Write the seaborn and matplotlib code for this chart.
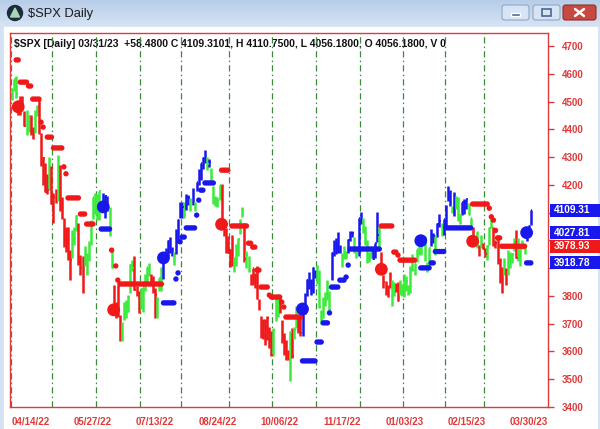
import matplotlib
matplotlib.use("Agg")
import matplotlib.pyplot as plt
import matplotlib.transforms as mtransforms
from matplotlib.colors import LinearSegmentedColormap
from matplotlib.patches import Rectangle, FancyBboxPatch, Circle, Polygon
import numpy as np
import pandas as pd
import seaborn as sns

# ---- daily bars 04/01/22 .. 03/31/23, one entry per trading day ----
highs = [
    # Apr
    4547, 4583, 4593, 4504, 4521, 4521, 4465, 4471, 4453, 4452,
    4410, 4471, 4489, 4512, 4386, 4299, 4279, 4240, 4300, 4269,
    # May
    4169, 4185, 4308, 4270, 4158, 4082, 4049, 4050, 3964, 4039,
    4047, 4090, 4063, 3946, 3943, 3981, 3955, 3999, 4075, 4158, 4169,
    # Jun
    4166, 4177, 4143, 4169, 4164, 4160, 4119, 3974, 3838, 3778,
    3838, 3733, 3707, 3779, 3784, 3802, 3914, 3928, 3945, 3837, 3818,
    # Jul
    3829, 3832, 3879, 3906, 3918, 3880, 3873, 3829, 3796, 3864,
    3903, 3940, 3974, 4001, 4013, 3975, 3960, 4040, 4078, 4140,
    # Aug
    4140, 4140, 4167, 4162, 4151, 4187, 4138, 4211, 4257, 4280,
    4301, 4325, 4302, 4292, 4260, 4196, 4159, 4156, 4200, 4204,
    4062, 4045, 4015,
    # Sep
    3970, 4018, 3942, 3987, 4010, 4076, 4119, 4062, 3962, 3944,
    3880, 3900, 3881, 3907, 3790, 3727, 3716, 3718, 3726, 3687, 3672,
    # Oct
    3683, 3791, 3807, 3797, 3712, 3668, 3641, 3607, 3675, 3685,
    3689, 3762, 3719, 3736, 3755, 3809, 3862, 3886, 3860, 3905, 3893,
    # Nov
    3911, 3894, 3750, 3796, 3814, 3859, 3818, 3957, 4001, 4008,
    4029, 3983, 3954, 3979, 3962, 4005, 4034, 4035, 4013, 3976, 4080,
    # Dec
    4101, 4080, 4052, 4001, 3957, 3966, 3978, 3991, 4101, 4053,
    3958, 3875, 3855, 3838, 3888, 3856, 3846, 3846, 3849, 3858, 3840,
    # Jan
    3879, 3873, 3839, 3907, 3951, 3919, 3970, 4003, 4003, 4015,
    4015, 3923, 3973, 4040, 4028, 4019, 4061, 4095, 4063, 4077,
    # Feb
    4127, 4195, 4183, 4124, 4176, 4160, 4157, 4094, 4139, 4148,
    4148, 4136, 4081, 4050, 4010, 4033, 3983, 4018, 3991,
    # Mar
    3972, 3983, 4048, 4079, 4050, 4001, 4018, 3935, 3905, 3937,
    3902, 3965, 3958, 3956, 4009, 4039, 4007, 3972, 4003, 3979,
    4030, 4055, 4111,
]
lows = [
    4507, 4539, 4514, 4450, 4451, 4481, 4411, 4381, 4392, 4381,
    4367, 4387, 4447, 4385, 4268, 4200, 4175, 4166, 4180, 4132,
    4063, 4133, 4141, 4107, 4077, 3975, 3957, 3928, 3859, 3938,
    3983, 4034, 3912, 3876, 3810, 3909, 3875, 3925, 3985, 4078, 4096,
    4073, 4074, 4099, 4110, 4080, 4107, 4017, 3900, 3743, 3721,
    3723, 3639, 3636, 3715, 3722, 3743, 3810, 3889, 3820, 3800, 3738,
    3752, 3742, 3816, 3850, 3872, 3847, 3810, 3722, 3721, 3817,
    3818, 3860, 3928, 3945, 3955, 3944, 3911, 3952, 3990, 4080,
    4079, 4079, 4108, 4128, 4107, 4128, 4105, 4177, 4201, 4219,
    4256, 4277, 4253, 4265, 4218, 4131, 4124, 4119, 4147, 4057,
    4017, 3954, 3954,
    3903, 3907, 3886, 3907, 3944, 4022, 4083, 3922, 3902, 3888,
    3838, 3838, 3829, 3789, 3750, 3647, 3644, 3624, 3642, 3611, 3584,
    3584, 3710, 3723, 3739, 3630, 3588, 3568, 3571, 3492, 3576,
    3644, 3686, 3666, 3654, 3657, 3735, 3799, 3824, 3804, 3809, 3863,
    3843, 3758, 3698, 3722, 3764, 3786, 3744, 3859, 3944, 3950,
    3953, 3954, 3906, 3933, 3933, 3956, 3999, 4013, 3956, 3937, 3945,
    4058, 4026, 3984, 3918, 3922, 3935, 3933, 3937, 3994, 3965,
    3879, 3828, 3802, 3796, 3828, 3765, 3798, 3813, 3780, 3805, 3801,
    3795, 3816, 3802, 3809, 3890, 3877, 3924, 3947, 3947, 3984,
    3925, 3885, 3899, 3979, 3990, 3949, 4013, 4049, 4015, 4021,
    4048, 4142, 4124, 4097, 4088, 4113, 4070, 4060, 4093, 4095,
    4114, 4091, 4047, 3996, 3982, 3972, 3944, 3973, 3969,
    3940, 3928, 3984, 4044, 3981, 3974, 3914, 3847, 3809, 3874,
    3838, 3876, 3901, 3917, 3962, 3936, 3925, 3909, 3970, 3952,
    3998, 4032, 4056,
]
closes = [
    4546, 4583, 4526, 4481, 4500, 4488, 4413, 4397, 4447, 4393,
    4392, 4463, 4459, 4394, 4272, 4297, 4175, 4183, 4288, 4132,
    4155, 4175, 4301, 4147, 4123, 3991, 4001, 3935, 3930, 4024,
    4008, 4089, 3923, 3901, 3901, 3974, 3941, 3979, 4058, 4158, 4132,
    4101, 4177, 4109, 4121, 4161, 4116, 4018, 3901, 3750, 3735,
    3790, 3667, 3675, 3765, 3760, 3796, 3912, 3901, 3822, 3819, 3785,
    3825, 3831, 3845, 3903, 3899, 3855, 3819, 3802, 3790, 3863,
    3831, 3937, 3960, 3999, 3962, 3967, 3921, 4024, 4072, 4130,
    4119, 4091, 4155, 4152, 4145, 4140, 4122, 4210, 4207, 4280,
    4297, 4305, 4275, 4284, 4228, 4138, 4128, 4141, 4199, 4058,
    4031, 3986, 3955,
    3967, 3924, 3908, 3980, 4006, 4067, 4110, 3932, 3946, 3901,
    3873, 3899, 3856, 3790, 3758, 3693, 3655, 3647, 3719, 3640, 3586,
    3678, 3791, 3783, 3745, 3640, 3612, 3589, 3577, 3670, 3583,
    3677, 3720, 3695, 3666, 3753, 3797, 3859, 3831, 3807, 3901, 3872,
    3856, 3760, 3720, 3771, 3807, 3828, 3749, 3956, 3993, 3957,
    3992, 3959, 3946, 3965, 3950, 4003, 4027, 4026, 3964, 3958, 4080,
    4077, 4072, 3998, 3941, 3933, 3963, 3934, 3991, 4019, 3996,
    3896, 3852, 3818, 3821, 3879, 3823, 3845, 3829, 3783, 3849, 3840,
    3825, 3853, 3808, 3895, 3893, 3919, 3970, 3983, 3999, 3991,
    3929, 3899, 3973, 4020, 4017, 4016, 4060, 4071, 4018, 4077,
    4119, 4180, 4136, 4111, 4164, 4118, 4082, 4090, 4137, 4136,
    4148, 4090, 4079, 3997, 3991, 4012, 3970, 3982, 3970,
    3951, 3981, 4046, 4048, 3986, 3992, 3918, 3862, 3855, 3920,
    3892, 3960, 3917, 3951, 4003, 3937, 3949, 3971, 3977, 3971,
    4028, 4051, 4109,
]

# bar colour runs: bar index where a run starts and its colour
run_start = [0, 3, 7, 9, 11, 13, 18, 19, 22, 23, 29, 32, 35, 44, 47, 49, 53,
             59, 62, 67, 70, 73, 78, 79, 83, 84, 86, 87, 88, 89, 94, 95, 96,
             101, 107, 112, 113, 115, 126, 129, 134, 135, 136, 138, 140, 147,
             154, 159, 162, 165, 167, 169, 174, 177, 178, 183, 185, 187, 202,
             204, 205, 207, 208, 212, 213, 214, 217, 220, 222, 224, 225, 226,
             227, 229, 232, 237, 238, 239, 243, 244, 248]
run_color = ["G", "R", "G", "R", "G", "R", "G", "R", "G", "R", "G", "R", "G",
             "B", "G", "R", "G", "R", "G", "R", "G", "B", "G", "B", "G", "B",
             "G", "B", "G", "B", "G", "B", "G", "R", "G", "R", "G", "R", "G",
             "R", "G", "R", "G", "R", "B", "G", "B", "G", "B", "G", "B", "G",
             "B", "G", "R", "G", "R", "G", "B", "G", "B", "G", "B", "G", "B",
             "G", "B", "G", "R", "G", "R", "G", "R", "G", "R", "G", "R", "G",
             "R", "G", "B"]

# trailing stop dots: first bar, last bar, level, side
stop_start = [2, 4, 8, 10, 14, 15, 17, 20, 25, 26, 27, 33, 36, 43, 48, 50, 51,
              52, 73, 79, 80, 81, 82, 84, 89, 90, 91, 93, 101, 106, 114, 116,
              118, 120, 124, 125, 130, 131, 132, 140, 147, 150, 153, 154, 158,
              161, 162, 163, 178, 184, 186, 187, 197, 202, 204, 209, 222, 230,
              231, 232, 233, 234, 236, 248]
stop_end = [3, 7, 9, 13, 14, 15, 19, 24, 25, 26, 32, 35, 39, 47, 48, 50, 51,
            72, 78, 79, 80, 81, 83, 88, 89, 90, 92, 97, 104, 113, 115, 117,
            119, 123, 124, 129, 130, 131, 139, 146, 149, 152, 153, 157, 160,
            161, 162, 177, 183, 185, 186, 194, 201, 203, 208, 221, 229, 230,
            231, 232, 233, 235, 247, 250]
stop_level = [4650, 4570, 4556, 4509, 4426, 4408, 4372, 4333, 4265, 4240, 4153,
              4095, 4059, 4041, 3965, 3908, 3857, 3843, 3775, 3861, 3883, 3995,
              4012, 4045, 4091, 4145, 4181, 4207, 4253, 4052, 3990, 3976, 3893,
              3832, 3803, 3796, 3778, 3760, 3724, 3566, 3634, 3703, 3739, 3832,
              3857, 3868, 3911, 3969, 4052, 3958, 3947, 3929, 3901, 3919, 3960,
              4045, 4131, 4116, 4085, 4073, 4036, 4009, 3979, 3919]
stop_side = ["R"] * 13 + ["B"] + ["R"] * 4 + ["B"] * 10 + ["R"] * 11 + \
            ["B"] * 9 + ["R"] * 4 + ["B"] * 4 + ["R"] * 7 + ["B"]

# signal dots
sig_idx = [3, 44, 49, 73, 101, 140, 178, 197, 222, 248]
sig_price = [4481, 4121, 3750, 3937, 4058, 3753, 3896, 3999, 3997, 4028]
sig_side = ["R", "B", "R", "B", "R", "B", "R", "B", "R", "B"]

month_first = [0, 20, 41, 62, 82, 105, 126, 147, 168, 189, 209, 228]
label_idx = [9, 39, 69, 99, 129, 159, 189, 219, 249]
label_text = ["04/14/22", "05/27/22", "07/13/22", "08/24/22", "10/06/22",
              "11/17/22", "01/03/23", "02/15/23", "03/30/23"]

box_values = [4109.31, 4027.81, 3978.93, 3918.78]
box_side = ["B", "B", "R", "B"]

header = ("$SPX [Daily] 03/31/23  +58.4800 C 4109.3101, H 4110.7500, "
          "L 4056.1800, O 4056.1800, V 0")

PAL = {"R": "#f01818", "G": "#3cea3c", "B": "#1818ee"}
AXIS_RED = "#e03a3a"

sns.set_theme(style="white")
plt.rcParams["font.family"] = ["Liberation Sans", "DejaVu Sans"]

fig = plt.figure(figsize=(6.0, 4.29), dpi=100)

# ---- window chrome, drawn in pixel coordinates ----
bg = fig.add_axes([0, 0, 1, 1])
bg.add_patch(Rectangle((0, 0), 600, 429, color="#d3e1f2", zorder=0))
grad = np.linspace(0, 1, 60).reshape(-1, 1)
bg.imshow(grad, extent=(0, 600, 26, 0), aspect="auto", zorder=1,
          cmap=LinearSegmentedColormap.from_list("tb", ["#b7cde8", "#d5e3f4"]))
bg.add_patch(Rectangle((4, 27), 593, 402, color="white", zorder=2))
bg.add_patch(Circle((15, 13), 7.5, color="#1d2a40", zorder=3))
bg.add_patch(Polygon([(10.5, 17), (15, 8), (19.5, 17)], closed=True,
                     color="#a8d8b0", zorder=4))
bg.text(28, 13.5, "$SPX Daily", fontsize=9.3, va="center", color="#1a1a1a")
for x0, fc, ec in [(502, "#d6e4f4", "#8fa8c8"), (533, "#d6e4f4", "#8fa8c8"),
                   (563, "#c8493f", "#8e2f28")]:
    w = 33 if x0 == 563 else 27
    bg.add_patch(FancyBboxPatch((x0, 5), w, 15,
                                boxstyle="round,pad=0,rounding_size=2.5",
                                fc=fc, ec=ec, lw=0.8, zorder=3))
bg.add_patch(Rectangle((511, 13), 9, 2.5, fc="#4a6890", zorder=4))
bg.add_patch(Rectangle((542, 9), 9, 7, fc="none", ec="#4a6890", lw=1.2, zorder=4))
bg.plot([575, 584], [9, 16], color="white", lw=1.8, zorder=4)
bg.plot([575, 584], [16, 9], color="white", lw=1.8, zorder=4)
bg.text(14, 44, header, fontsize=7.5, weight="bold", va="center",
        color="#111111", zorder=5)
bg.set_xlim(0, 600)
bg.set_ylim(429, 0)
bg.axis("off")

# ---- price panel ----
ax = fig.add_axes([10 / 600, 1 - 407 / 429, 538 / 600, 374 / 429])
ax.set_facecolor("none")

idx = np.arange(len(closes))
bar_codes = []
for k, s in enumerate(run_start):
    e = run_start[k + 1] if k + 1 < len(run_start) else len(closes)
    bar_codes += [run_color[k]] * (e - s)
bar_cols = [PAL[c] for c in bar_codes]

for m in month_first:
    ax.axvline(m - 0.5, color="#3d8a3d", lw=0.9,
               ls=(0, (5, 2.5, 1.2, 2.5)), zorder=1)

ax.vlines(idx, lows, highs, colors=bar_cols, lw=1.8, zorder=3)
ax.hlines(closes, idx, idx + 0.7, colors=bar_cols, lw=1.2, zorder=3)

rows = []
for s, e, lv, sd in zip(stop_start, stop_end, stop_level, stop_side):
    for i in range(s, e + 1):
        rows.append({"idx": i, "level": lv, "side": sd})
stops = pd.DataFrame(rows)
sns.scatterplot(data=stops, x="idx", y="level", hue="side", palette=PAL,
                s=15, linewidth=0, legend=False, ax=ax, zorder=4)

sigs = pd.DataFrame({"idx": sig_idx, "price": sig_price, "side": sig_side})
sns.scatterplot(data=sigs, x="idx", y="price", hue="side", palette=PAL,
                s=85, linewidth=0, legend=False, ax=ax, zorder=5)

ax.set_xlim(-0.96, 258.3)
ax.set_ylim(3400, 4747)
ax.set_xlabel("")
ax.set_ylabel("")

# price scale; levels hidden behind the last-value boxes carry no label
yt = list(range(3400, 4701, 100))
ax.yaxis.tick_right()
ax.set_yticks(yt)
ax.set_yticklabels(["" if min(abs(v - b) for b in box_values) < 30 else str(v)
                    for v in yt])
minor = list(range(9, 258, 10))
ax.set_xticks(minor)
ax.set_xticklabels([label_text[label_idx.index(t)] if t in label_idx else ""
                    for t in minor])
ax.tick_params(axis="both", direction="out", length=4, width=1,
               color=AXIS_RED, labelcolor=AXIS_RED, labelsize=7, pad=3)
ax.tick_params(axis="y", pad=6)
for lab in ax.get_xticklabels() + ax.get_yticklabels():
    lab.set_fontweight("bold")
for sp in ax.spines.values():
    sp.set_visible(True)
    sp.set_color(AXIS_RED)
    sp.set_linewidth(1)

# last-value boxes on the price scale
trans = mtransforms.blended_transform_factory(bg.transData, ax.transData)
for v, sd in zip(box_values, box_side):
    ax.add_patch(Rectangle((550, v - 23.5), 52, 47, transform=trans,
                           fc=PAL[sd], ec="none", clip_on=False, zorder=10))
    ax.text(554, v, f"{v:.2f}", transform=trans, fontsize=7.3, weight="bold",
            color="#fffff0", va="center", ha="left", clip_on=False, zorder=11)

fig.savefig("out.png", dpi=100)
